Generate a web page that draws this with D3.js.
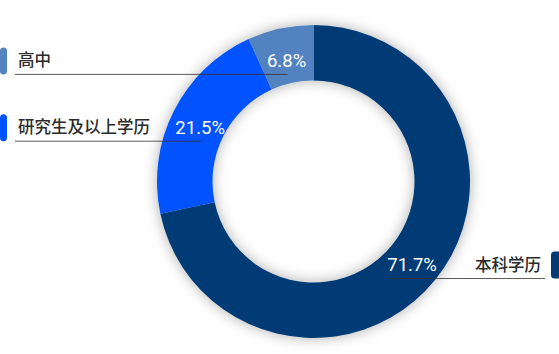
<!DOCTYPE html>
<html lang="zh">
<head>
  <meta charset="utf-8" />
  <script src="https://d3js.org/d3.v7.min.js"></script>
  <style>
    html, body { margin: 0; padding: 0; background: #fff; }
    svg { display: block; }
  </style>
</head>
<body>
  <svg id="canvas" width="559" height="354"></svg>
<script>
// data
var categories = ['本科学历', '研究生及以上学历', '高中'];
var values = [71.7, 21.5, 6.8];
var colors = ['#033a74', '#0052fe', '#5282c0'];
var labelSide = ['right', 'left', 'left'];

var W = 559, H = 354;
var cx = 313.5, cy = 181.5;
var outerR = 156.5, innerR = 101;

var svg = d3.select('#canvas');

var defs = svg.append('defs');
var f = defs.append('filter').attr('id', 'shadow')
  .attr('x', '-20%').attr('y', '-20%').attr('width', '140%').attr('height', '140%');
f.append('feDropShadow')
  .attr('dx', 0).attr('dy', 0)
  .attr('stdDeviation', 7)
  .attr('flood-color', '#000')
  .attr('flood-opacity', 0.32);

var pie = d3.pie().sort(null).value(function(d) { return d; });
var arcs = pie(values);

var arc = d3.arc().innerRadius(innerR).outerRadius(outerR);
var labelArc = d3.arc().innerRadius(127).outerRadius(127);

var g = svg.append('g').attr('transform', 'translate(' + cx + ',' + cy + ')');

g.append('g').attr('filter', 'url(#shadow)')
  .selectAll('path')
  .data(arcs)
  .enter().append('path')
  .attr('d', arc)
  .attr('fill', function(d, i) { return colors[i]; });

// leader lines + legend labels
var lg = svg.append('g');
arcs.forEach(function(d, i) {
  var c = labelArc.centroid(d);
  var x = c[0] + cx, y = c[1] + cy + 3;

  var lineY = y + 14;
  if (labelSide[i] === 'left') {
    lg.append('line')
      .attr('x1', 15).attr('x2', x + 1)
      .attr('y1', lineY).attr('y2', lineY)
      .attr('stroke', '#333').attr('stroke-width', 1).attr('opacity', 0.8);
    lg.append('rect')
      .attr('x', 0).attr('y', y - 13).attr('width', 7).attr('height', 27)
      .attr('rx', 3.5).attr('fill', colors[i]);
    lg.append('text')
      .attr('x', 18).attr('y', y + 6)
      .attr('font-family', '"Noto Sans CJK SC", "Noto Sans", sans-serif')
      .attr('font-size', 16.5).attr('font-weight', 500).attr('fill', '#2b2b2b')
      .text(categories[i]);
  } else {
    lg.append('line')
      .attr('x1', x - 23).attr('x2', W - 14)
      .attr('y1', lineY).attr('y2', lineY)
      .attr('stroke', '#333').attr('stroke-width', 1).attr('opacity', 0.8);
    lg.append('rect')
      .attr('x', W - 8).attr('y', y - 13).attr('width', 12).attr('height', 27)
      .attr('rx', 3.5).attr('fill', colors[i]);
    lg.append('text')
      .attr('x', W - 18).attr('y', y + 6)
      .attr('text-anchor', 'end')
      .attr('font-family', '"Noto Sans CJK SC", "Noto Sans", sans-serif')
      .attr('font-size', 16.5).attr('font-weight', 500).attr('fill', '#2b2b2b')
      .text(categories[i]);
  }

  lg.append('text')
    .attr('x', x).attr('y', y + 6.5)
    .attr('text-anchor', 'middle')
    .attr('font-family', 'Roboto, sans-serif')
    .attr('font-size', 18.5).attr('font-weight', 400).attr('fill', '#fff')
    .text(values[i].toFixed(1) + '%');
});
</script>
</body>
</html>
